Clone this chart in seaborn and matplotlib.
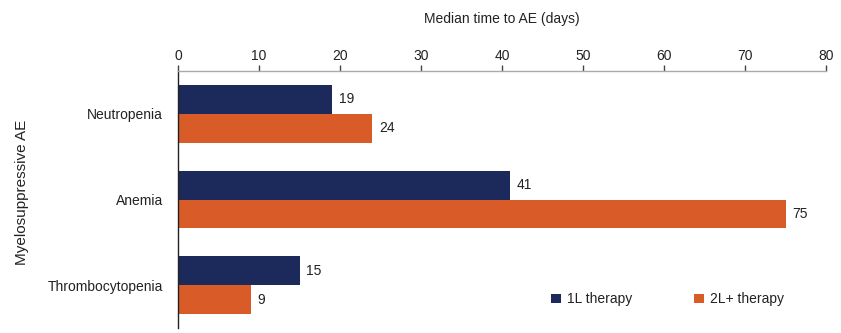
import matplotlib
matplotlib.use("Agg")
import matplotlib.pyplot as plt
import seaborn as sns
import pandas as pd

categories = ["Neutropenia", "Anemia", "Thrombocytopenia"]
series_names = ["1L therapy", "2L+ therapy"]
values_1l = [19, 41, 15]
values_2l = [24, 75, 9]
x_ticks = [0, 10, 20, 30, 40, 50, 60, 70, 80]
colors = ["#1b2a5b", "#d95b27"]

df = pd.DataFrame({
    "AE": categories * 2,
    "Therapy": [series_names[0]] * 3 + [series_names[1]] * 3,
    "Days": values_1l + values_2l,
})

sns.set_theme(style="white")
plt.rcParams["font.family"] = ["Liberation Sans", "DejaVu Sans"]

fig = plt.figure(figsize=(8.41, 3.33), dpi=100)
ax = fig.add_axes([178 / 841, 1 - 328 / 333, (826 - 178) / 841, (328 - 71) / 333])

sns.barplot(data=df, y="AE", x="Days", hue="Therapy", order=categories,
            hue_order=series_names, palette=colors, orient="h", width=0.67,
            saturation=1, ax=ax, edgecolor="none")

for c in ax.containers:
    ax.bar_label(c, padding=5, fontsize=10, color="#222222")

ax.set_xlim(0, 80)
ax.set_ylim(2.5, -0.5)
ax.set_xticks(x_ticks)
ax.xaxis.set_ticks_position("top")
ax.xaxis.set_label_position("top")
ax.tick_params(axis="x", direction="out", length=4, width=1, color="#444444",
               labelsize=10, labelcolor="#222222", pad=1.5)
ax.tick_params(axis="y", length=0, labelsize=10, labelcolor="#222222", pad=11)
ax.set_xlabel("Median time to AE (days)", fontsize=10, color="#222222", labelpad=19)
ax.set_ylabel("Myelosuppressive AE", fontsize=11, color="#222222", labelpad=13)
ax.yaxis.label.set_y((328 - 192) / 257)

for s in ["right", "bottom"]:
    ax.spines[s].set_visible(False)
ax.spines["top"].set_color("#aaaaaa")
ax.spines["top"].set_linewidth(1)
ax.spines["left"].set_color("#222222")
ax.spines["left"].set_linewidth(1)

leg = ax.legend(loc="lower left", bbox_to_anchor=(0.557, 0.036), ncol=2, frameon=False,
                fontsize=10, handlelength=0.7, handleheight=0.7, handletextpad=0.4,
                columnspacing=4.5)
for t in leg.get_texts():
    t.set_color("#222222")

fig.savefig("out.png", dpi=100)
